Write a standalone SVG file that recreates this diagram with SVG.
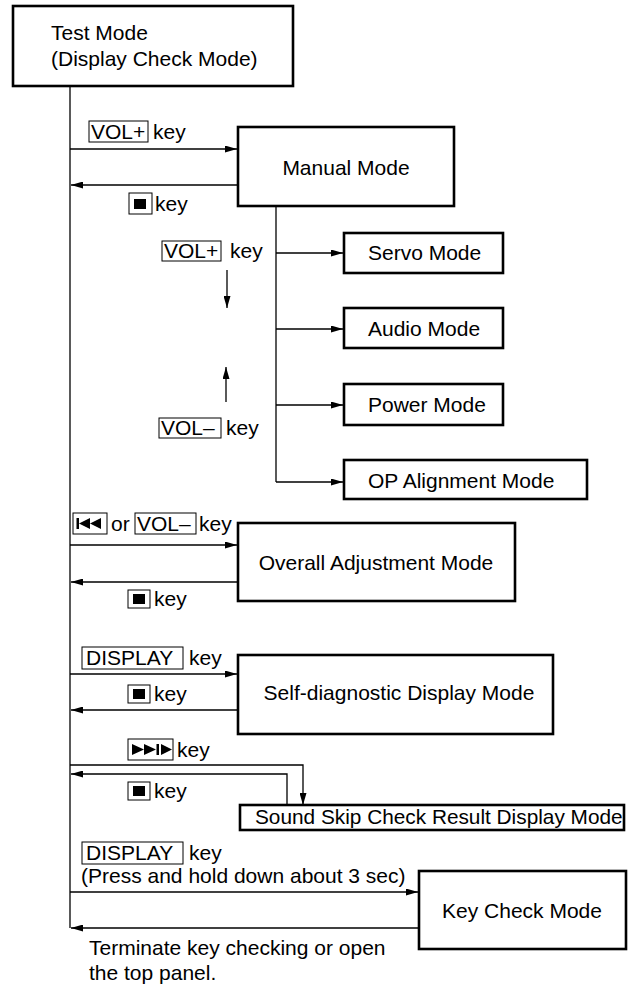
<svg xmlns="http://www.w3.org/2000/svg" width="643" height="984" viewBox="0 0 643 984">
<defs>
<marker id="ah" markerUnits="userSpaceOnUse" markerWidth="12" markerHeight="7" refX="12" refY="3.5" orient="auto">
<path d="M0,0 L12,3.5 L0,7 z" fill="#000"/>
</marker>
<style>
text{font-family:"Liberation Sans",Arial,sans-serif;font-size:21px;fill:#000}
.box{fill:#fff;stroke:#000;stroke-width:2.6}
.kb{fill:none;stroke:#000;stroke-width:1}
.ln{fill:none;stroke:#000;stroke-width:1.3}
.ar{fill:none;stroke:#000;stroke-width:1.3;marker-end:url(#ah)}
.mid{text-anchor:middle}
</style>
</defs>
<rect width="643" height="984" fill="#fff"/>

<g id="connectors">
<line class="ln" x1="70" y1="86" x2="70" y2="928"/>
<line class="ar" x1="70" y1="149" x2="237" y2="149"/>
<line class="ar" x1="237" y1="185" x2="71" y2="185"/>
<line class="ln" x1="276" y1="206" x2="276" y2="482"/>
<line class="ar" x1="276" y1="253" x2="343" y2="253"/>
<line class="ar" x1="276" y1="329" x2="343" y2="329"/>
<line class="ar" x1="276" y1="405" x2="343" y2="405"/>
<line class="ar" x1="276" y1="482" x2="343" y2="482"/>
<line class="ar" x1="227" y1="270" x2="227" y2="308"/>
<line class="ar" x1="226" y1="402" x2="226" y2="367"/>
<line class="ar" x1="70" y1="545" x2="237" y2="545"/>
<line class="ar" x1="237" y1="582" x2="71" y2="582"/>
<line class="ar" x1="70" y1="674" x2="237" y2="674"/>
<line class="ar" x1="237" y1="710" x2="71" y2="710"/>
<polyline class="ar" points="70,765 303,765 303,805"/>
<polyline class="ar" points="287,805 287,774 71,774"/>
<line class="ar" x1="70" y1="892" x2="418" y2="892"/>
<line class="ar" x1="419" y1="928" x2="71" y2="928"/>
</g>

<g id="labels">
<rect class="kb" x="89" y="121" width="59" height="21"/>
<text x="91" y="139">VOL+</text>
<text x="153" y="139">key</text>

<rect class="kb" x="129" y="193" width="23" height="21"/>
<rect x="134" y="199" width="12" height="10" fill="#000"/>
<text x="155" y="211">key</text>

<rect class="kb" x="162" y="241" width="59" height="20"/>
<text x="164" y="258">VOL+</text>
<text x="230" y="258">key</text>

<rect class="kb" x="159" y="418" width="62" height="20"/>
<text x="161" y="435">VOL–</text>
<text x="226" y="435">key</text>

<rect class="kb" x="73" y="513" width="34" height="21"/>
<rect x="76.5" y="518" width="2.5" height="11" fill="#000"/>
<polygon points="79,523.5 90,518 90,529" fill="#000"/>
<polygon points="90,523.5 101,518 101,529" fill="#000"/>
<text x="111" y="531">or</text>
<rect class="kb" x="135" y="513" width="61" height="21"/>
<text x="137" y="531">VOL–</text>
<text x="199" y="531">key</text>

<rect class="kb" x="128" y="590" width="22" height="18"/>
<rect x="133" y="594" width="12" height="10" fill="#000"/>
<text x="154" y="606">key</text>

<rect class="kb" x="82" y="647" width="101" height="22"/>
<text x="86" y="665">DISPLAY</text>
<text x="189" y="665">key</text>

<rect class="kb" x="128" y="685" width="22" height="18"/>
<rect x="133" y="689" width="12" height="10" fill="#000"/>
<text x="154" y="701">key</text>

<rect class="kb" x="128" y="739" width="45" height="21"/>
<polygon points="132,744 144,749.5 132,755" fill="#000"/>
<polygon points="144,744 156,749.5 144,755" fill="#000"/>
<rect x="156.5" y="744" width="2.5" height="11" fill="#000"/>
<polygon points="161,744 172,749.5 161,755" fill="#000"/>
<text x="177" y="757">key</text>

<rect class="kb" x="128" y="782" width="22" height="18"/>
<rect x="133" y="786" width="12" height="10" fill="#000"/>
<text x="154" y="798">key</text>

<rect class="kb" x="82" y="842" width="101" height="22"/>
<text x="86" y="860">DISPLAY</text>
<text x="189" y="860">key</text>
<text x="81" y="883">(Press and hold down about 3 sec)</text>

<text x="89" y="955">Terminate key checking or open</text>
<text x="89" y="980">the top panel.</text>
</g>

<g id="test-mode">
<rect class="box" x="13" y="6" width="280" height="80"/>
<text x="51" y="40">Test Mode</text>
<text x="51" y="66">(Display Check Mode)</text>
</g>

<g id="manual-mode">
<rect class="box" x="238" y="127" width="216" height="79"/>
<text class="mid" x="346" y="175">Manual Mode</text>
</g>

<g id="servo-mode">
<rect class="box" x="344" y="233" width="159" height="40"/>
<text x="368" y="260">Servo Mode</text>
</g>

<g id="audio-mode">
<rect class="box" x="344" y="308" width="159" height="40"/>
<text x="368" y="336">Audio Mode</text>
</g>

<g id="power-mode">
<rect class="box" x="344" y="384" width="159" height="41"/>
<text x="368" y="412">Power Mode</text>
</g>

<g id="op-alignment-mode">
<rect class="box" x="344" y="460" width="243" height="39"/>
<text x="368" y="488">OP Alignment Mode</text>
</g>

<g id="overall-adjustment-mode">
<rect class="box" x="238" y="523" width="277" height="78"/>
<text class="mid" x="376" y="570">Overall Adjustment Mode</text>
</g>

<g id="self-diagnostic-mode">
<rect class="box" x="238" y="655" width="315" height="79"/>
<text class="mid" x="399" y="700">Self-diagnostic Display Mode</text>
</g>

<g id="sound-skip-mode">
<rect class="box" x="240" y="805" width="384" height="25"/>
<text x="255" y="824" style="font-size:20.8px">Sound Skip Check Result Display Mode</text>
</g>

<g id="key-check-mode">
<rect class="box" x="419" y="871" width="207" height="78"/>
<text class="mid" x="522" y="918">Key Check Mode</text>
</g>
</svg>
